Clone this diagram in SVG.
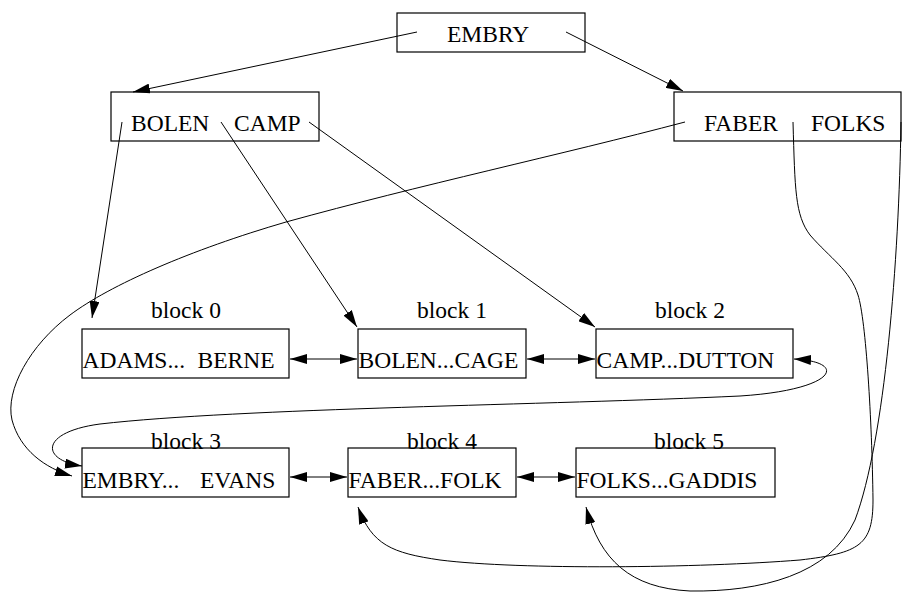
<svg xmlns="http://www.w3.org/2000/svg" width="902" height="596" viewBox="0 0 902 596">
  <style>
    .box { fill: #fff; stroke: #000; stroke-width: 1.2; }
    .open { fill: none; }
    .lbl { font-size: 23.5px; fill: #000; }
    .edge { fill: none; stroke: #000; stroke-width: 1; }
    .one { marker-end: url(#ah); }
    .two { marker-start: url(#ah); marker-end: url(#ah); }
  </style>
  <defs>
    <marker id="ah" markerUnits="userSpaceOnUse" viewBox="0 0 17 10" markerWidth="17" markerHeight="10" refX="17" refY="5" orient="auto-start-reverse">
      <path d="M0,0 L17,5 L0,10 z" fill="#000"/>
    </marker>
  </defs>
  <rect width="902" height="596" fill="#fff"/>

  <g font-family="'Liberation Serif', serif">
    <!-- index nodes -->
    <g id="root">
      <rect class="box" x="397" y="13" width="188" height="39"/>
      <text class="lbl" x="447" y="42">EMBRY</text>
    </g>
    <g id="index-left">
      <rect class="box" x="111" y="92" width="208" height="49"/>
      <text class="lbl" y="131"><tspan x="131">BOLEN</tspan><tspan x="234">CAMP</tspan></text>
    </g>
    <g id="index-right">
      <rect class="box" x="674" y="92" width="227" height="49"/>
      <text class="lbl" y="131"><tspan x="704">FABER</tspan><tspan x="811">FOLKS</tspan></text>
    </g>

    <!-- data blocks -->
    <g id="block0">
      <text class="lbl" x="186" y="318" text-anchor="middle">block 0</text>
      <rect class="box" x="82" y="329" width="207" height="49"/>
      <text class="lbl" y="368"><tspan x="82.5">ADAMS...</tspan><tspan x="197.5">BERNE</tspan></text>
    </g>
    <g id="block1">
      <text class="lbl" x="452" y="318" text-anchor="middle">block 1</text>
      <rect class="box" x="358" y="329" width="168" height="49"/>
      <text class="lbl" x="358.5" y="368">BOLEN...CAGE</text>
    </g>
    <g id="block2">
      <text class="lbl" x="690" y="318" text-anchor="middle">block 2</text>
      <rect class="box" x="596" y="329" width="197" height="49"/>
      <text class="lbl" x="596.5" y="368">CAMP...DUTTON</text>
    </g>
    <g id="block3">
      <text class="lbl" x="186" y="449" text-anchor="middle">block 3</text>
      <rect class="box open" x="82" y="448" width="207" height="49"/>
      <text class="lbl" y="488"><tspan x="82.5">EMBRY...</tspan><tspan x="200">EVANS</tspan></text>
    </g>
    <g id="block4">
      <text class="lbl" x="442" y="449" text-anchor="middle">block 4</text>
      <rect class="box open" x="348" y="448" width="168" height="49"/>
      <text class="lbl" x="348.5" y="488">FABER...FOLK</text>
    </g>
    <g id="block5">
      <text class="lbl" x="689" y="449" text-anchor="middle">block 5</text>
      <rect class="box open" x="576" y="448" width="199" height="49"/>
      <text class="lbl" x="576.5" y="488">FOLKS...GADDIS</text>
    </g>
  </g>

  <!-- pointers and sibling links -->
  <g id="connectors">
    <path class="edge one" d="M417,32 L133,92"/>
    <path class="edge one" d="M566,32 L683,91"/>
    <path class="edge one" d="M122,122 L92,318"/>
    <path class="edge one" d="M221,122 L357,327"/>
    <path class="edge one" d="M309,122 L595,327"/>
    <path class="edge one" d="M685,122 C560,155 420,185 286,222 C190,250 110,285 70,315 C30,345 5,390 12,420 C20,450 45,468 72,476"/>
    <path class="edge one" d="M793,122 C795,190 795,215 810,235 C830,258 850,270 858,295 C866,320 872,420 873,500 C873,545 860,553 800,560 C700,568 520,570 440,560 C392,553 372,545 358,507"/>
    <path class="edge one" d="M901,122 C899,260 885,440 855,520 C830,575 760,592 690,591 C630,588 600,560 586,507"/>
    <path class="edge two" d="M290,359 L357,359"/>
    <path class="edge two" d="M527,359 L595,359"/>
    <path class="edge two" d="M290,477 L347,477"/>
    <path class="edge two" d="M517,477 L575,477"/>
    <path class="edge two" d="M794,359 C850,362 835,390 740,396 C550,405 240,408 100,424 C40,432 40,460 82,466"/>
  </g>
</svg>
